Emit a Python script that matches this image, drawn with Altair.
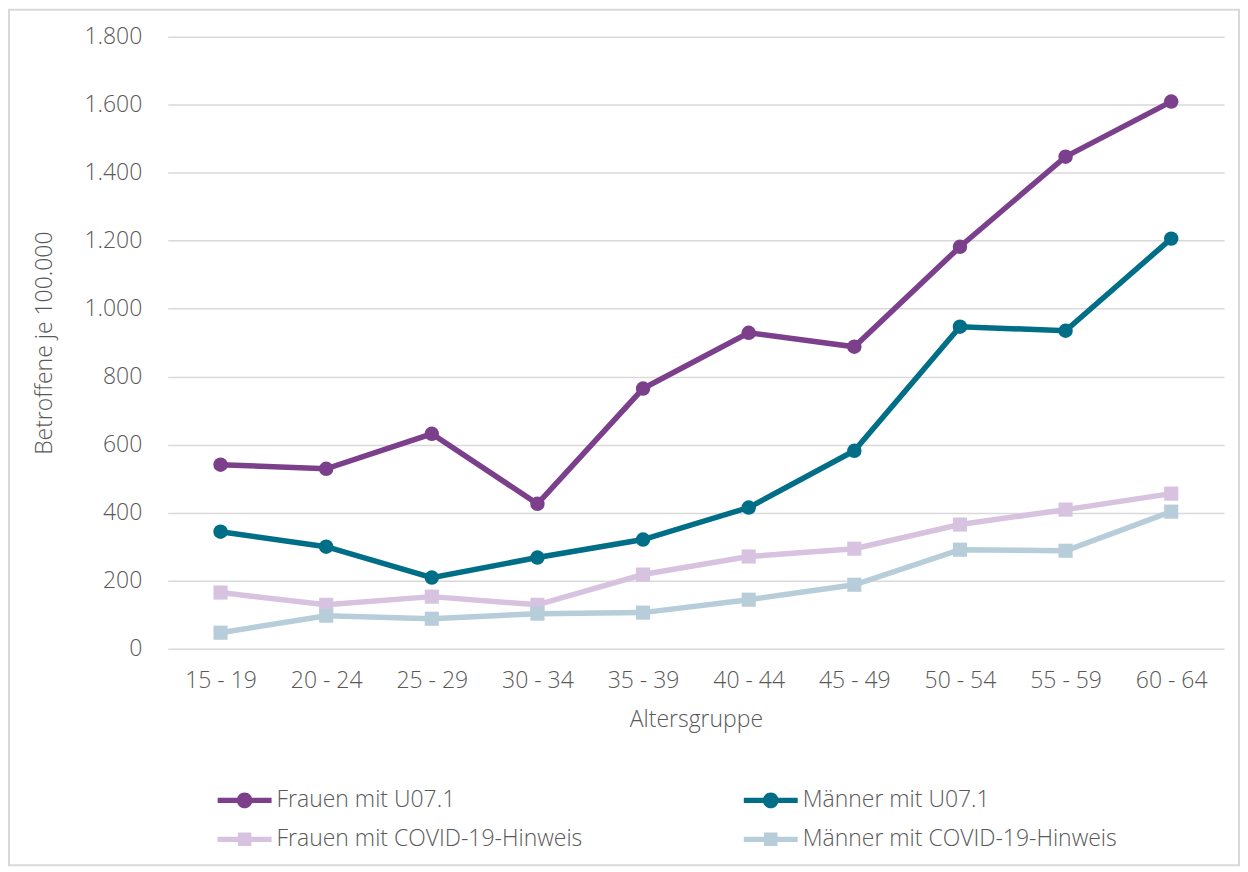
import altair as alt
import pandas as pd

ages = ["15 - 19", "20 - 24", "25 - 29", "30 - 34", "35 - 39",
        "40 - 44", "45 - 49", "50 - 54", "55 - 59", "60 - 64"]
series_names = ["Frauen mit U07.1", "Männer mit U07.1",
                "Frauen mit COVID-19-Hinweis", "Männer mit COVID-19-Hinweis"]
frauen_u071 = [541, 529, 632, 426, 765, 929, 888, 1182, 1447, 1609]
maenner_u071 = [344, 300, 209, 268, 321, 415, 582, 947, 935, 1206]
frauen_covid = [165, 129, 153, 129, 218, 271, 294, 365, 409, 456]
maenner_covid = [47, 97, 88, 103, 106, 144, 188, 291, 288, 403]
colors = ["#7B3F8C", "#006E86", "#D7C3E0", "#B7CDD9"]
marker_shapes = ["circle", "circle", "square", "square"]
y_ticks = [0, 200, 400, 600, 800, 1000, 1200, 1400, 1600, 1800]

values = [frauen_u071, maenner_u071, frauen_covid, maenner_covid]
rows = []
for name, vals in zip(series_names, values):
    for a, v in zip(ages, vals):
        rows.append({"age": a, "value": v, "series": name})
df = pd.DataFrame(rows)

# legend is filled column by column: reorder so rows read as in the original
legend_order = [0, 2, 1, 3]
dom = [series_names[i] for i in legend_order]
rng = [colors[i] for i in legend_order]

W, H = 1058, 613
FONT = "Open Sans"
GRAY = "#595959"
FS = 23

circ_path = ("M-1,-0.1 H1 V0.1 H-1 Z "
             "M0.29,0 A0.29,0.29 0 1,1 -0.29,0 A0.29,0.29 0 1,1 0.29,0 Z")
sq_path = "M-1,-0.1 H1 V0.1 H-1 Z M-0.25,-0.25 H0.25 V0.25 H-0.25 Z"
legend_shapes = [circ_path if marker_shapes[i] == "circle" else sq_path
                 for i in legend_order]

color_scale = alt.Scale(domain=dom, range=rng)
x_enc = alt.X("age:N", sort=ages, scale=alt.Scale(type="point", padding=0.5),
              axis=alt.Axis(title="Altersgruppe", labelAngle=0, domain=False,
                            ticks=False, tickSize=0, labelPadding=21,
                            titleY=71, titleBaseline="middle"))
y_enc = alt.Y("value:Q", scale=alt.Scale(domain=[0, 1800], nice=False),
              axis=alt.Axis(title="Betroffene je 100.000", values=y_ticks,
                            domain=False, ticks=False, tickSize=0,
                            labelPadding=26,
                            labelExpr="replace(format(datum.value, ','), ',', '.')",
                            titleX=-123, titleY=H / 2, titleAngle=-90,
                            titleAlign="center", titleBaseline="middle"))

base = alt.Chart(df)
layers = []
for name, shp in zip(series_names, marker_shapes):
    sub = base.transform_filter(alt.datum.series == name)
    line = sub.mark_line(strokeWidth=5.5).encode(
        x=x_enc, y=y_enc,
        color=alt.Color("series:N", scale=color_scale, legend=None))
    pts = sub.mark_point(shape=shp, filled=True, opacity=1,
                         size=210 if shp == "circle" else 200).encode(
        x=x_enc, y=y_enc,
        color=alt.Color("series:N", scale=color_scale, legend=None))
    layers += [line, pts]

leg = alt.Legend(title=None, orient="none", legendX=50, legendY=738,
                 columns=2, columnPadding=161, rowPadding=-13,
                 symbolSize=2916, symbolStrokeWidth=0, labelOffset=5,
                 padding=0)
legend_layer = base.transform_filter("false").mark_point(
    filled=True, opacity=1).encode(
    x=x_enc, y=y_enc,
    color=alt.Color("series:N", scale=color_scale, legend=leg),
    shape=alt.Shape("series:N", scale=alt.Scale(domain=dom,
                                                range=legend_shapes),
                    legend=leg))

frame = alt.Chart(alt.Data(values=[{}])).mark_rect(
    fill=None, stroke="#D9D9D9", strokeWidth=2).encode(
    x=alt.value(-159), x2=alt.value(W + 15),
    y=alt.value(-27), y2=alt.value(H + 217))

chart = alt.layer(frame, *layers, legend_layer).resolve_scale(
    color="shared").resolve_legend(
    color="independent", shape="independent").properties(
    width=W, height=H,
    autosize=alt.AutoSizeParams(type="none"),
    padding={"left": 160, "top": 28, "right": 16, "bottom": 219},
).configure_view(stroke=None).configure_axis(
    labelFont=FONT, titleFont=FONT, labelFontSize=FS, titleFontSize=FS,
    labelFontWeight=300, titleFontWeight=300,
    labelColor=GRAY, titleColor=GRAY,
    gridColor="#D9D9D9", gridWidth=1.5,
).configure_axisX(grid=False).configure_legend(
    labelFont=FONT, labelFontSize=FS, labelFontWeight=300,
    labelColor=GRAY, labelLimit=500,
)

chart.save("out.html", embed_options={"renderer": "svg", "actions": False})
